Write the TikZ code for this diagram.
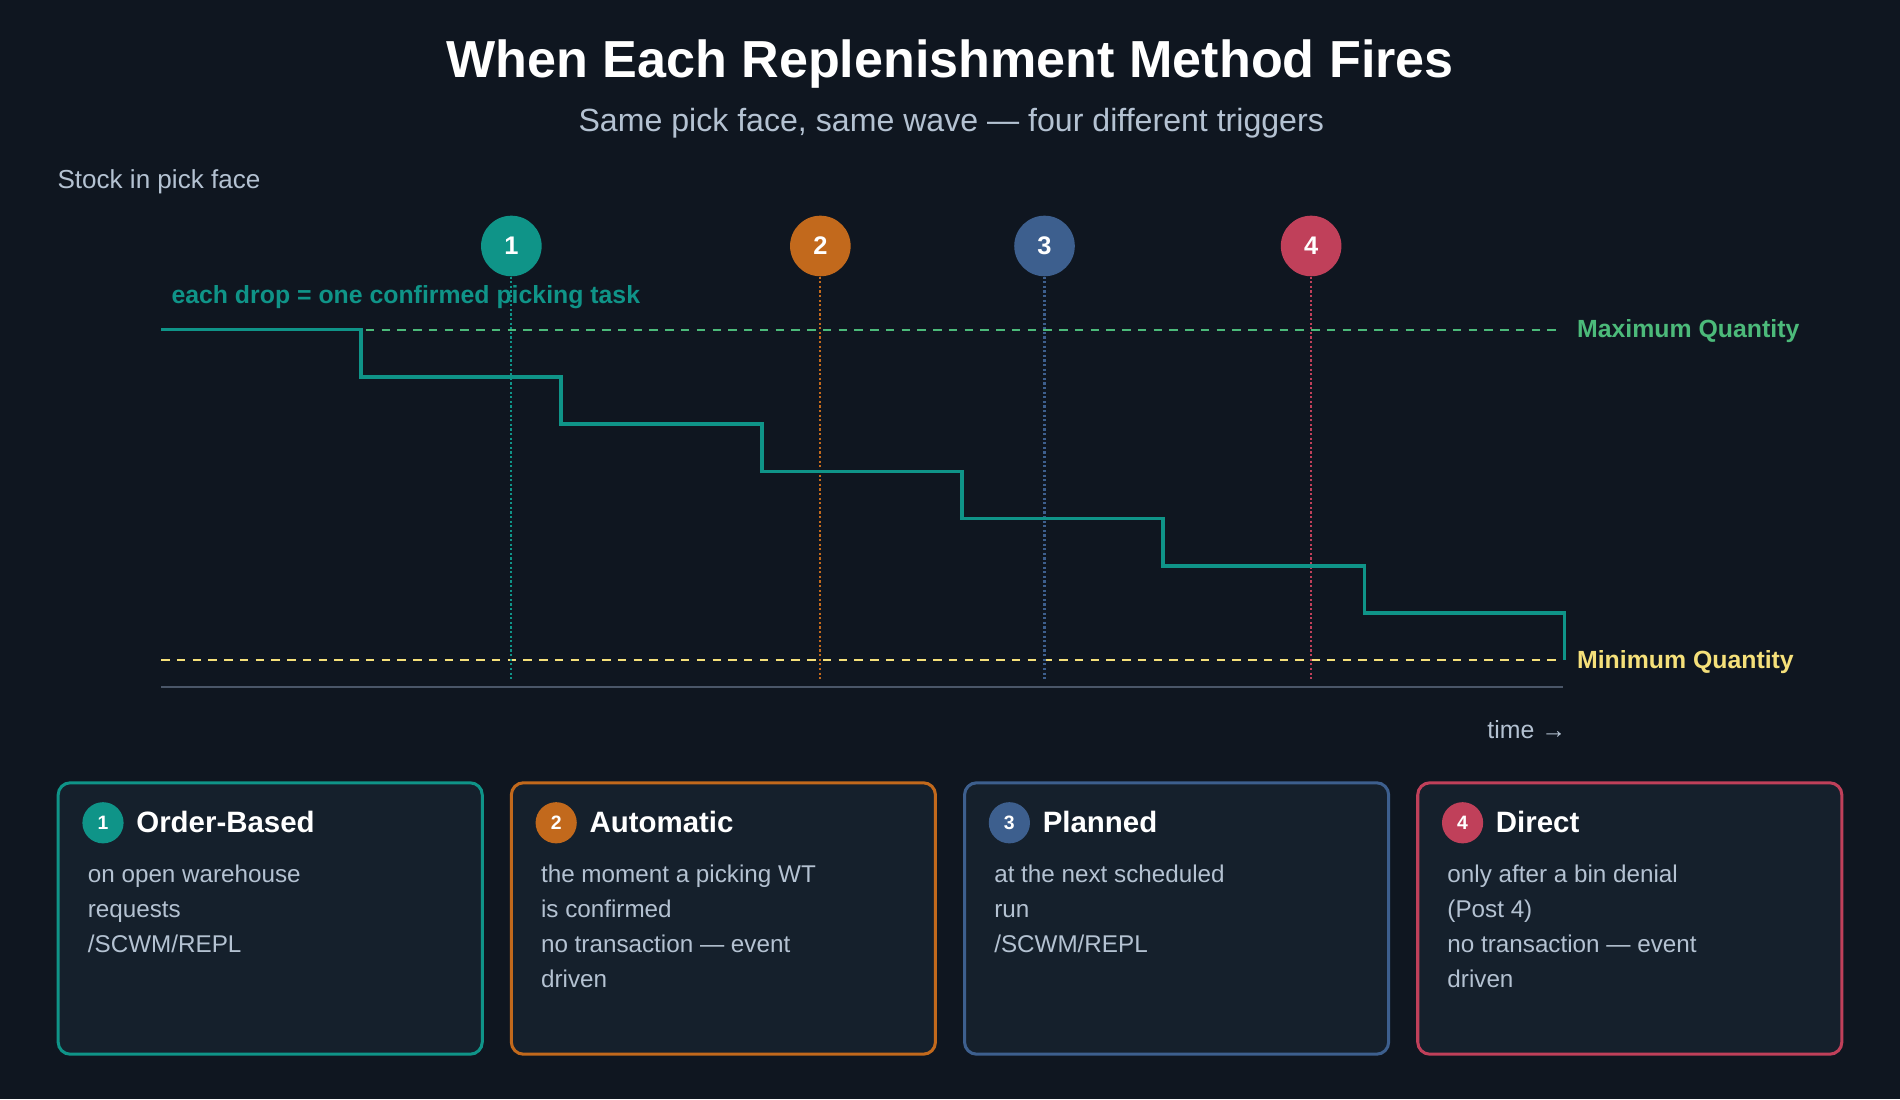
\documentclass[tikz,border=0pt]{standalone}
\usepackage{fontspec}
\setmainfont{Liberation Sans}
\begin{document}
\definecolor{bg}{HTML}{0F1620}
\definecolor{boxbg}{HTML}{15202C}
\definecolor{cteal}{HTML}{0F9488}
\definecolor{corange}{HTML}{C2691C}
\definecolor{cblue}{HTML}{3D5F8E}
\definecolor{cred}{HTML}{C0405A}
\definecolor{cgreen}{HTML}{4CBA7A}
\definecolor{cyellow}{HTML}{F5E07A}
\definecolor{ctext}{HTML}{B4C2D2}
\definecolor{caxis}{HTML}{4A5668}
\begin{tikzpicture}[x=1pt,y=-1pt,
  bigc/.style={circle,fill=#1,minimum size=50pt,inner sep=0pt,text=white,font=\bfseries\fontsize{21}{21}\selectfont},
  smallc/.style={circle,fill=#1,minimum size=34pt,inner sep=0pt,text=white,font=\bfseries\fontsize{16}{16}\selectfont},
  vline/.style={#1,dotted,line width=1.8pt},
  card/.style={draw=#1,line width=2.5pt,fill=boxbg,rounded corners=10pt},
  ctitle/.style={anchor=west,text=white,font=\bfseries\fontsize{24.3}{24.3}\selectfont},
  cdesc/.style={anchor=north west,text=ctext,align=left,font=\fontsize{20}{29}\selectfont},
]
\fill[bg] (0,0) rectangle (1568,907);
\useasboundingbox (0,0) rectangle (1568,907);
\node[text=white,font=\bfseries\fontsize{43}{43}\selectfont] (title) at (784,53) {When Each Replenishment Method Fires};
\node[text=ctext,font=\fontsize{26.5}{26.5}\selectfont] (sub) at (785,102) {Same pick face, same wave — four different triggers};
\node[anchor=west,text=ctext,font=\fontsize{21.5}{21.5}\selectfont] (ylab) at (44,150) {Stock in pick face};
\coordinate (maxL) at (133,272); \coordinate (maxR) at (1290,272);
\coordinate (minL) at (133,545); \coordinate (minR) at (1290,545);
\coordinate (axL) at (133,567); \coordinate (axR) at (1290,567);
\draw[cgreen,line width=1.6pt,dash pattern=on 7pt off 6pt] (maxL) -- (maxR);
\draw[cyellow,line width=1.6pt,dash pattern=on 7pt off 6pt] (minL) -- (minR);
\draw[caxis,line width=2pt] (axL) -- (axR);
\node[anchor=west,text=cgreen,font=\bfseries\fontsize{20.5}{20.5}\selectfont] (maxlab) at (1298,273) {Maximum Quantity};
\node[anchor=west,text=cyellow,font=\bfseries\fontsize{20.5}{20.5}\selectfont] (minlab) at (1298,546) {Minimum Quantity};
\foreach \x/\n/\c in {422/1/cteal,677/2/corange,862/3/cblue,1082/4/cred}{
  \node[bigc=\c] (m\n) at (\x,203) {\n};
  \coordinate (b\n) at (\x,560);
  \draw[vline=\c] (m\n.south) -- (b\n);
}
\draw[cteal,line width=3pt,line join=miter] (133,272) -- (298,272) -- (298,311) -- (463,311) -- (463,350) -- (629,350) -- (629,389) -- (794,389) -- (794,428) -- (960,428) -- (960,467) -- (1126,467) -- (1126,506) -- (1291,506) -- (1291,545);
\node[anchor=west,text=cteal,font=\bfseries\fontsize{20.5}{20.5}\selectfont] (drop) at (138,245) {each drop = one confirmed picking task};
\node[anchor=east,text=ctext,font=\fontsize{20.5}{20.5}\selectfont] (time) at (1296,602) {time →};
\foreach \x/\n/\c/\t/\d in {
 48/1/cteal/Order-Based/{on open warehouse\\requests\\/SCWM/REPL},
 422/2/corange/Automatic/{the moment a picking WT\\is confirmed\\no transaction — event\\driven},
 796/3/cblue/Planned/{at the next scheduled\\run\\/SCWM/REPL},
 1170/4/cred/Direct/{only after a bin denial\\(Post 4)\\no transaction — event\\driven}}{
  \draw[card=\c] (\x,646) rectangle ++(350,224);
  \node[smallc=\c] (c\n) at (\x+37,679) {\n};
  \node[ctitle] (t\n) at (\x+61,678) {\t};
  \node[cdesc] (d\n) at (\x+21,710) {\d};
}
\end{tikzpicture}
\end{document}
